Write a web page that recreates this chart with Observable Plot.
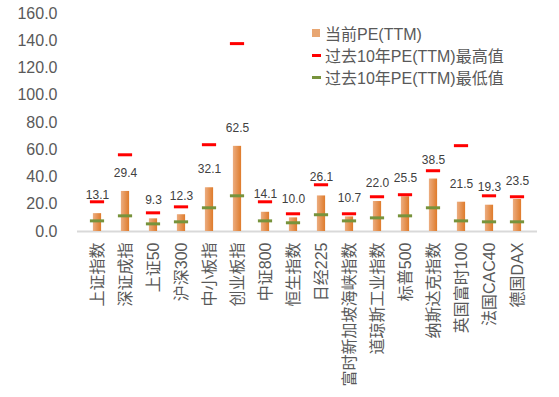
<!DOCTYPE html>
<html>
<head>
<meta charset="utf-8">
<script src="https://cdn.jsdelivr.net/npm/d3@7"></script>
<script src="https://cdn.jsdelivr.net/npm/@observablehq/plot@0.6"></script>
<style>
  body { margin: 0; background: #fff; }
  #wrap { position: relative; width: 559px; height: 397px; font-family: "Liberation Sans", "Noto Sans CJK SC", sans-serif; }
  #legend { position: absolute; left: 311px; top: 22px; font-size: 16px; color: #595959; }
  .row { height: 22px; display: flex; align-items: center; white-space: nowrap; }
  .sw { width: 10px; display: inline-flex; justify-content: center; align-items: center; margin-right: 4px; }
</style>
</head>
<body>
<div id="wrap"></div>
<script>
const categories = ["上证指数","深证成指","上证50","沪深300","中小板指","创业板指","中证800","恒生指数","日经225","富时新加坡海峡指数","道琼斯工业指数","标普500","纳斯达克指数","英国富时100","法国CAC40","德国DAX"];
const currentPE = [13.1, 29.4, 9.3, 12.3, 32.1, 62.5, 14.1, 10.0, 26.1, 10.7, 22.0, 25.5, 38.5, 21.5, 19.3, 23.5];
const maxPE = [21.8, 56.3, 13.7, 18.1, 63.7, 137.9, 21.8, 13.0, 34.3, 13.0, 25.5, 27.0, 44.6, 63.0, 26.2, 25.5];
const minPE = [7.8, 11.5, 5.6, 7.1, 17.4, 26.2, 7.8, 6.4, 12.3, 7.8, 10.0, 11.5, 17.4, 7.8, 7.1, 7.1];
const yTicks = [0, 20, 40, 60, 80, 100, 120, 140, 160];
const seriesNames = ["当前PE(TTM)", "过去10年PE(TTM)最高值", "过去10年PE(TTM)最低值"];

const data = categories.map((c, i) => ({cat: c, cur: currentPE[i], max: maxPE[i], min: minPE[i]}));

const defsMark = () => {
  const ns = "http://www.w3.org/2000/svg";
  const defs = document.createElementNS(ns, "defs");
  defs.innerHTML = '<linearGradient id="barGrad" x1="0" x2="1" y1="0" y2="0"><stop offset="0" stop-color="#ecad80"/><stop offset="1" stop-color="#df7b2b"/></linearGradient>';
  return defs;
};

const chart = Plot.plot({
  width: 559,
  height: 397,
  marginLeft: 77,
  marginRight: 22,
  marginTop: 13,
  marginBottom: 166,
  style: {fontFamily: '"Liberation Sans", "Noto Sans CJK SC", sans-serif', background: "transparent"},
  x: {domain: categories, padding: 0},
  y: {domain: [0, 160]},
  marks: [
    defsMark,
    Plot.axisY({ticks: yTicks, tickFormat: d3.format(".1f"), tickSize: 0, tickPadding: 20, fontSize: 16, fill: "#595959", label: null}),
    Plot.axisX({tickRotate: -90, tickSize: 0, tickPadding: 11, fontSize: 16, fill: "#595959", label: null}),
    Plot.ruleY([0], {stroke: "#d9d9d9", strokeWidth: 2}),
    Plot.barY(data, {x: "cat", y: "cur", fill: "url(#barGrad)", insetLeft: 9.9, insetRight: 9.9}),
    Plot.tickY(data, {x: "cat", y: "max", stroke: "#ff0000", strokeWidth: 3, insetLeft: 6.9, insetRight: 6.9}),
    Plot.tickY(data, {x: "cat", y: "min", stroke: "#77933c", strokeWidth: 3, insetLeft: 6.9, insetRight: 6.9}),
    Plot.text(data, {x: "cat", y: "cur", text: d => d.cur.toFixed(1), dy: -18.5, fontSize: 12, fill: "#404040", lineAnchor: "middle"})
  ]
});

const wrap = document.getElementById("wrap");
wrap.appendChild(chart);

const legend = document.createElement("div");
legend.id = "legend";
const swatches = [
  '<span style="display:inline-block;width:8px;height:8px;background:#e8a672"></span>',
  '<span style="display:inline-block;width:9px;height:3px;background:#ff0000"></span>',
  '<span style="display:inline-block;width:9px;height:3px;background:#77933c"></span>'
];
seriesNames.forEach((n, i) => {
  const row = document.createElement("div");
  row.className = "row";
  row.innerHTML = '<span class="sw">' + swatches[i] + '</span><span>' + n + '</span>';
  legend.appendChild(row);
});
wrap.appendChild(legend);
</script>
</body>
</html>
